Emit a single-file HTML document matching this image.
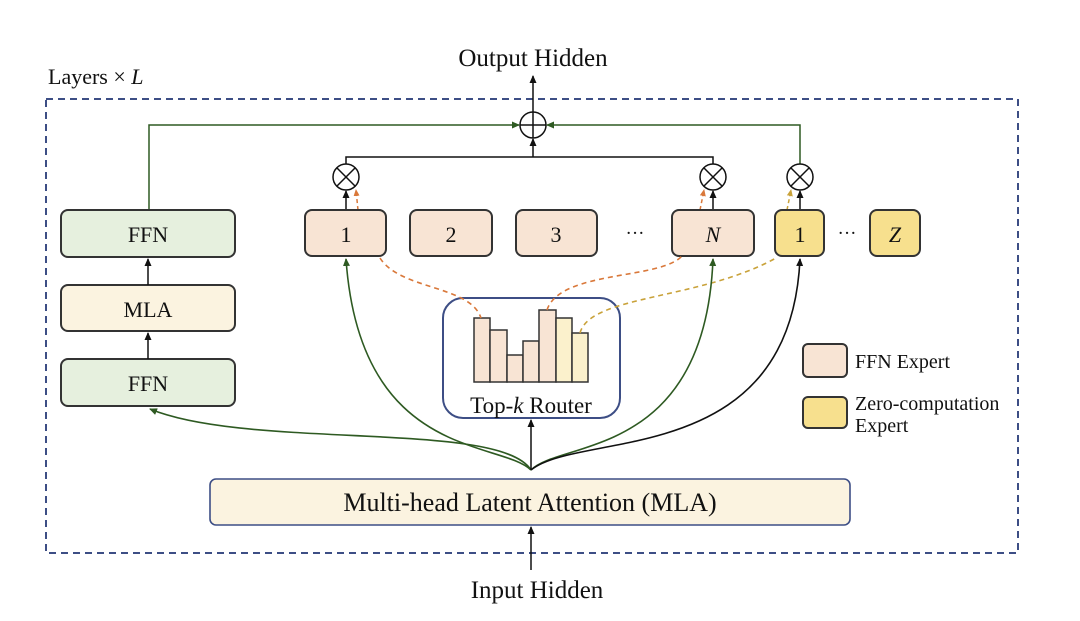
<!DOCTYPE html>
<html><head><meta charset="utf-8"><style>
html,body{margin:0;padding:0;background:#fff}
svg{display:block}
text{font-family:"Liberation Serif",serif;fill:#111}
</style></head><body>
<svg width="1080" height="621" viewBox="0 0 1080 621" xmlns="http://www.w3.org/2000/svg">
<defs>
<marker id="ak" markerWidth="8" markerHeight="8" refX="7" refY="4" orient="auto" markerUnits="userSpaceOnUse"><path d="M0,0.5 L8,4 L0,7.5z" fill="#111"/></marker>
<marker id="ag" markerWidth="8" markerHeight="8" refX="7" refY="4" orient="auto" markerUnits="userSpaceOnUse"><path d="M0,0.5 L8,4 L0,7.5z" fill="#2e5a22"/></marker>
<marker id="ao" markerWidth="7" markerHeight="7" refX="6" refY="3.5" orient="auto" markerUnits="userSpaceOnUse"><path d="M0,0.5 L7,3.5 L0,6.5z" fill="#d9783a"/></marker>
<marker id="ay" markerWidth="7" markerHeight="7" refX="6" refY="3.5" orient="auto" markerUnits="userSpaceOnUse"><path d="M0,0.5 L7,3.5 L0,6.5z" fill="#c9a23a"/></marker>
</defs>
<rect x="46" y="99" width="972" height="454" fill="none" stroke="#3d4e85" stroke-width="2" stroke-dasharray="7,5"/>
<text x="48" y="84" font-size="22">Layers × <tspan font-style="italic">L</tspan></text>
<text x="533" y="66" font-size="25" text-anchor="middle">Output Hidden</text>
<text x="537" y="598" font-size="25" text-anchor="middle">Input Hidden</text>
<line x1="533" y1="112" x2="533" y2="76" stroke="#111" stroke-width="1.5" marker-end="url(#ak)"/>
<line x1="531" y1="570" x2="531" y2="527" stroke="#111" stroke-width="1.5" marker-end="url(#ak)"/>
<circle cx="533" cy="125" r="13" fill="#fff" stroke="#111" stroke-width="1.5"/>
<line x1="520" y1="125" x2="546" y2="125" stroke="#111" stroke-width="1.5"/>
<line x1="533" y1="112" x2="533" y2="138" stroke="#111" stroke-width="1.5"/>
<polyline points="149,210 149,125 519,125" fill="none" stroke="#2e5a22" stroke-width="1.5" marker-end="url(#ag)"/>
<polyline points="800,164 800,125 547,125" fill="none" stroke="#2e5a22" stroke-width="1.5" marker-end="url(#ag)"/>
<polyline points="346,164 346,157 713,157 713,164" fill="none" stroke="#111" stroke-width="1.5"/>
<line x1="533" y1="157" x2="533" y2="139" stroke="#111" stroke-width="1.5" marker-end="url(#ak)"/>
<g stroke="#111" stroke-width="1.5" fill="#fff">
<circle cx="346" cy="177" r="13"/><line x1="337" y1="168" x2="355" y2="186"/><line x1="355" y1="168" x2="337" y2="186"/>
<circle cx="713" cy="177" r="13"/><line x1="704" y1="168" x2="722" y2="186"/><line x1="722" y1="168" x2="704" y2="186"/>
<circle cx="800" cy="177" r="13"/><line x1="791" y1="168" x2="809" y2="186"/><line x1="809" y1="168" x2="791" y2="186"/>
</g>
<line x1="346" y1="210" x2="346" y2="191" stroke="#111" stroke-width="1.5" marker-end="url(#ak)"/>
<line x1="713" y1="210" x2="713" y2="191" stroke="#111" stroke-width="1.5" marker-end="url(#ak)"/>
<line x1="800" y1="210" x2="800" y2="191" stroke="#111" stroke-width="1.5" marker-end="url(#ak)"/>
<line x1="358" y1="210" x2="356" y2="190" stroke="#d9783a" stroke-width="1.5" stroke-dasharray="4,3" marker-end="url(#ao)"/>
<line x1="700" y1="210" x2="704" y2="190" stroke="#d9783a" stroke-width="1.5" stroke-dasharray="4,3" marker-end="url(#ao)"/>
<line x1="787" y1="210" x2="791" y2="190" stroke="#c9a23a" stroke-width="1.5" stroke-dasharray="4,3" marker-end="url(#ay)"/>
<g stroke="#333" stroke-width="2">
<rect x="61" y="210" width="174" height="47" rx="7" fill="#e6f0de"/>
<rect x="61" y="285" width="174" height="46" rx="7" fill="#fbf3e0"/>
<rect x="61" y="359" width="174" height="47" rx="7" fill="#e6f0de"/>
</g>
<text x="148" y="242" font-size="22" text-anchor="middle">FFN</text>
<text x="148" y="317" font-size="22" text-anchor="middle">MLA</text>
<text x="148" y="391" font-size="22" text-anchor="middle">FFN</text>
<line x1="148" y1="285" x2="148" y2="259" stroke="#111" stroke-width="1.5" marker-end="url(#ak)"/>
<line x1="148" y1="359" x2="148" y2="333" stroke="#111" stroke-width="1.5" marker-end="url(#ak)"/>
<g stroke="#333" stroke-width="2">
<rect x="305" y="210" width="81" height="46" rx="7" fill="#f8e4d4"/>
<rect x="410" y="210" width="82" height="46" rx="7" fill="#f8e4d4"/>
<rect x="516" y="210" width="81" height="46" rx="7" fill="#f8e4d4"/>
<rect x="672" y="210" width="82" height="46" rx="7" fill="#f8e4d4"/>
<rect x="775" y="210" width="49" height="46" rx="7" fill="#f7e08e"/>
<rect x="870" y="210" width="50" height="46" rx="7" fill="#f7e08e"/>
</g>
<g font-size="22" text-anchor="middle">
<text x="346" y="242">1</text><text x="451" y="242">2</text><text x="556" y="242">3</text>
<text x="713" y="242" font-style="italic">N</text><text x="800" y="242">1</text><text x="895" y="242" font-style="italic">Z</text>
<text x="635" y="239" font-size="19">···</text><text x="847" y="239" font-size="19">···</text>
</g>
<rect x="443" y="298" width="177" height="120" rx="20" fill="#fff" stroke="#3d4e85" stroke-width="2"/>
<g stroke="#333" stroke-width="1.5">
<rect x="474" y="318" width="16" height="64" fill="#f8e4d4"/>
<rect x="490" y="330" width="17" height="52" fill="#f8e4d4"/>
<rect x="507" y="355" width="16" height="27" fill="#f8e4d4"/>
<rect x="523" y="341" width="16" height="41" fill="#f8e4d4"/>
<rect x="539" y="310" width="17" height="72" fill="#f8e4d4"/>
<rect x="556" y="318" width="16" height="64" fill="#fbf1cc"/>
<rect x="572" y="333" width="16" height="49" fill="#fbf1cc"/>
</g>
<text x="531" y="413" font-size="23" text-anchor="middle">Top-<tspan font-style="italic">k</tspan> Router</text>
<path d="M380,258 C400,290 470,285 481,318" fill="none" stroke="#d9783a" stroke-width="1.6" stroke-dasharray="5,4"/>
<path d="M547,310 C560,270 660,280 682,256" fill="none" stroke="#d9783a" stroke-width="1.6" stroke-dasharray="5,4"/>
<path d="M580,333 C590,295 700,300 776,258" fill="none" stroke="#c9a23a" stroke-width="1.6" stroke-dasharray="5,4"/>
<path d="M531,470 C500,420 250,450 150,409" fill="none" stroke="#2e5a22" stroke-width="1.6" marker-end="url(#ag)"/>
<path d="M531,470 C500,440 360,460 346,259" fill="none" stroke="#2e5a22" stroke-width="1.6" marker-end="url(#ag)"/>
<path d="M531,470 C560,440 705,460 713,259" fill="none" stroke="#2e5a22" stroke-width="1.6" marker-end="url(#ag)"/>
<path d="M531,470 C580,430 790,470 800,259" fill="none" stroke="#111" stroke-width="1.6" marker-end="url(#ak)"/>
<line x1="531" y1="470" x2="531" y2="420" stroke="#111" stroke-width="1.5" marker-end="url(#ak)"/>
<rect x="210" y="479" width="640" height="46" rx="6" fill="#fbf3e0" stroke="#3d4e85" stroke-width="1.6"/>
<text x="530" y="511" font-size="26" text-anchor="middle">Multi-head Latent Attention (MLA)</text>
<rect x="803" y="344" width="44" height="33" rx="5" fill="#f8e4d4" stroke="#333" stroke-width="2"/>
<rect x="803" y="397" width="44" height="31" rx="5" fill="#f7e08e" stroke="#333" stroke-width="2"/>
<text x="855" y="368" font-size="20">FFN Expert</text>
<text x="855" y="410" font-size="20">Zero-computation</text>
<text x="855" y="432" font-size="20">Expert</text>
</svg>
</body></html>
